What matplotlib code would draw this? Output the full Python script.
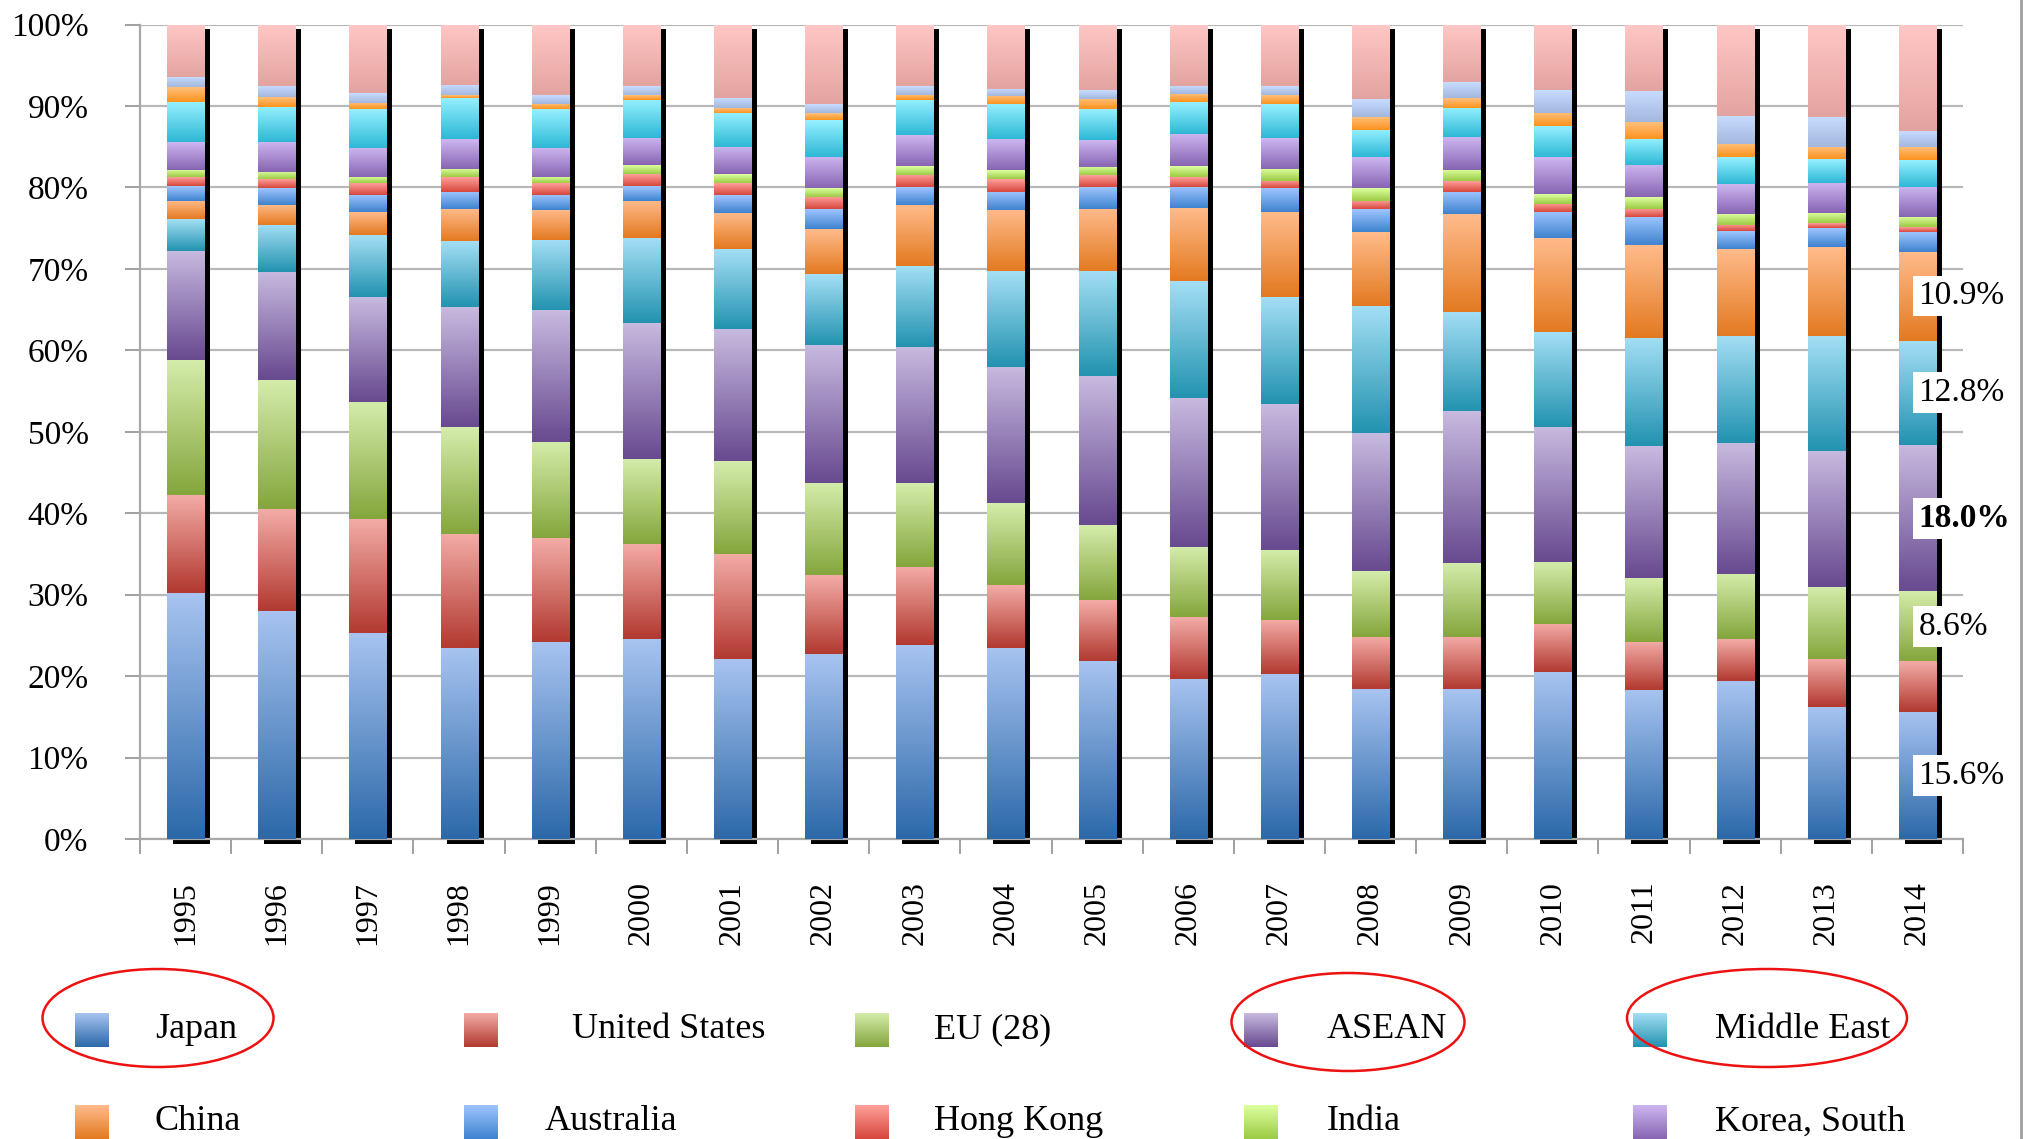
import numpy as np
import matplotlib
matplotlib.use("Agg")
import matplotlib.pyplot as plt
from matplotlib.colors import LinearSegmentedColormap
from matplotlib.patches import Ellipse, Rectangle
from matplotlib.lines import Line2D

plt.rcParams['font.family'] = ['Liberation Serif', 'DejaVu Serif']

years = [str(y) for y in range(1995, 2015)]

# shares of each partner (%) per year, bottom to top of the stack
japan     = [30.2, 28.0, 25.3, 23.5, 24.2, 24.5, 22.1, 22.7, 23.8, 23.5, 21.9, 19.7, 20.2, 18.4, 18.4, 20.5, 18.3, 19.4, 16.2, 15.6]
usa       = [12.1, 12.5, 14.0, 14.0, 12.7, 11.7, 12.9,  9.7,  9.6,  7.7,  7.4,  7.5,  6.7,  6.4,  6.4,  5.9,  5.9,  5.1,  5.9,  6.2]
eu28      = [16.5, 15.8, 14.4, 13.1, 11.9, 10.5, 11.4, 11.3, 10.3, 10.0,  9.2,  8.7,  8.6,  8.1,  9.1,  7.6,  7.8,  8.1,  8.9,  8.6]
asean     = [13.4, 13.3, 12.9, 14.7, 16.1, 16.7, 16.2, 17.0, 16.7, 16.8, 18.3, 18.3, 17.9, 16.9, 18.6, 16.6, 16.2, 16.0, 16.7, 18.0]
mideast   = [ 3.9,  5.8,  7.6,  8.1,  8.6, 10.4,  9.8,  8.7, 10.0, 11.7, 12.9, 14.3, 13.1, 15.7, 12.2, 11.6, 13.3, 13.2, 14.1, 12.8]
china     = [ 2.3,  2.5,  2.8,  4.0,  3.7,  4.6,  4.5,  5.5,  7.5,  7.5,  7.7,  9.0, 10.5,  9.0, 12.0, 11.6, 11.4, 10.7, 10.9, 10.9]
australia = [ 1.8,  2.0,  2.1,  2.1,  1.9,  1.8,  2.2,  2.4,  2.1,  2.3,  2.7,  2.6,  2.9,  2.8,  2.8,  3.2,  3.5,  2.1,  2.3,  2.4]
hongkong  = [ 1.1,  1.1,  1.4,  1.8,  1.4,  1.4,  1.4,  1.5,  1.5,  1.5,  1.4,  1.2,  0.9,  1.1,  1.3,  1.0,  1.0,  0.8,  0.6,  0.6]
india     = [ 0.9,  0.9,  0.8,  1.0,  0.8,  1.1,  1.1,  1.1,  1.1,  1.1,  1.0,  1.3,  1.5,  1.5,  1.4,  1.2,  1.4,  1.4,  1.3,  1.3]
korea     = [ 3.4,  3.7,  3.6,  3.6,  3.6,  3.4,  3.4,  3.9,  3.8,  3.8,  3.3,  4.0,  3.8,  3.8,  4.0,  4.5,  4.0,  3.6,  3.7,  3.7]
other_a   = [ 4.9,  4.3,  4.7,  5.1,  4.7,  4.7,  4.2,  4.5,  4.3,  4.3,  3.8,  3.9,  4.1,  3.4,  3.6,  3.8,  3.2,  3.3,  2.9,  3.3]
other_b   = [ 1.8,  1.2,  0.8,  0.3,  0.7,  0.6,  0.5,  0.8,  0.7,  1.0,  1.3,  1.0,  1.1,  1.6,  1.2,  1.7,  2.0,  1.6,  1.5,  1.6]
other_c   = [ 1.3,  1.4,  1.2,  1.3,  1.0,  1.1,  1.3,  1.1,  1.0,  0.9,  1.1,  1.0,  1.1,  2.2,  1.9,  2.8,  3.9,  3.5,  3.7,  1.9]
rest      = [ 6.4,  7.5,  8.4,  7.4,  8.7,  7.5,  9.0,  9.8,  7.6,  7.9,  8.0,  7.5,  7.6,  9.1,  7.1,  8.0,  8.1, 11.2, 11.3, 13.1]

series = [
    ("Japan",         japan,     "#2c69a9", "#a7c3f0"),
    ("United States", usa,       "#b23a31", "#f3aba6"),
    ("EU (28)",       eu28,      "#85a63d", "#d4ecaa"),
    ("ASEAN",         asean,     "#684a90", "#c7b9df"),
    ("Middle East",   mideast,   "#2393b0", "#a3def4"),
    ("China",         china,     "#e37a21", "#ffbb8b"),
    ("Australia",     australia, "#3f83cf", "#9ec5ff"),
    ("Hong Kong",     hongkong,  "#d6473d", "#ff9f99"),
    ("India",         india,     "#9ccb45", "#ddff9f"),
    ("Korea, South",  korea,     "#8865b3", "#cdb6f0"),
    ("other_a",       other_a,   "#2eb8d6", "#95f0ff"),
    ("other_b",       other_b,   "#fd931e", "#ffc07c"),
    ("other_c",       other_c,   "#a3b8dc", "#c7dcff"),
    ("rest",          rest,      "#e3a4a1", "#ffc7c5"),
]
legend_names = ["Japan", "United States", "EU (28)", "ASEAN", "Middle East",
                "China", "Australia", "Hong Kong", "India", "Korea, South"]
circled = ["Japan", "ASEAN", "Middle East"]

# 2014 labels: (series name, label text, bold)
labels_2014 = [("China", "10.9%", False), ("Middle East", "12.8%", False),
               ("ASEAN", "18.0%", True), ("EU (28)", "8.6%", False),
               ("Japan", "15.6%", False)]

W, H = 2031, 1139
fig = plt.figure(figsize=(W / 100, H / 100), dpi=100)
ax = fig.add_axes([140 / W, 1 - 839 / H, (1963 - 140) / W, (839 - 24.6) / H])

x = np.arange(len(years))
bar_w = 0.406
grad = np.linspace(0, 1, 64).reshape(-1, 1)

# drop shadows
ax.bar(x + 0.066, 100, bottom=-0.6, width=bar_w, color="black", zorder=2, clip_on=False)

bottom = np.zeros(len(years))
centers = {}
for name, vals, dark, light in series:
    vals = np.array(vals)
    cmap = LinearSegmentedColormap.from_list(name, [dark, light])
    bars = ax.bar(x, vals, bottom=bottom, width=bar_w, color="none", zorder=3)
    for r in bars:
        ax.imshow(grad, extent=(r.get_x(), r.get_x() + r.get_width(), r.get_y(), r.get_y() + r.get_height()),
                  origin="lower", aspect="auto", cmap=cmap, interpolation="bilinear", zorder=3)
    centers[name] = bottom[-1] + vals[-1] / 2
    bottom = bottom + vals

for name, txt, bold in labels_2014:
    ax.text(x[-1] + 0.01, centers[name], txt, fontsize=24, ha="left", va="center",
            fontweight="bold" if bold else "normal", zorder=5,
            bbox=dict(boxstyle="square,pad=0.15", fc="white", ec="none"))

ax.set_xlim(-0.5, len(years) - 0.5)
ax.set_ylim(0, 100)
ax.set_yticks(np.arange(0, 101, 10))
ax.set_yticklabels([f"{v}%" for v in range(0, 101, 10)], fontsize=24)
ax.yaxis.grid(True, color="#b8b8b8", lw=1.6, zorder=0)
ax.set_axisbelow(True)
ax.tick_params(axis="y", length=11, width=1.4, color="#a0a0a0", pad=26)

ax.set_xticks(x)
ax.set_xticklabels(years, rotation=90, fontsize=23)
ax.set_xticks(np.arange(-0.5, len(years)), minor=True)
ax.tick_params(axis="x", which="major", length=0, pad=30)
ax.tick_params(axis="x", which="minor", length=11, width=1.4, color="#a0a0a0")

for s in ["top", "right"]:
    ax.spines[s].set_visible(False)
for s in ["left", "bottom"]:
    ax.spines[s].set_color("#a8a8a8")
    ax.spines[s].set_linewidth(1.6)

# legend drawn by hand in pixel positions
colors = {name: (dark, light) for name, _, dark, light in series}
marker_x = [75, 464, 855, 1244, 1633]
text_x = [155, 545, 934, 1327, 1715]
row_y = [1030, 1122]
for i, name in enumerate(legend_names):
    row, col = divmod(i, 5)
    dark, light = colors[name]
    cmap = LinearSegmentedColormap.from_list(name + "_leg", [dark, light])
    cy = row_y[row]
    lax = fig.add_axes([marker_x[col] / W, 1 - (cy + 17) / H, 34 / W, 34 / H])
    lax.imshow(grad, origin="lower", aspect="auto", cmap=cmap, interpolation="bilinear")
    lax.axis("off")
    tx = text_x[col] + (27 if name == "United States" else 0)
    fig.text(tx / W, 1 - cy / H, name, fontsize=26, ha="left", va="center")

ellipses = {"Japan": (158, 1018, 231, 98), "ASEAN": (1348, 1022, 233, 98),
            "Middle East": (1767, 1018, 280, 98)}
for name in circled:
    ex, ey, ew, eh = ellipses[name]
    fig.patches.append(Ellipse((ex / W, 1 - ey / H), ew / W, eh / H, transform=fig.transFigure,
                               fill=False, ec="#ee1111", lw=1.8))

fig.lines.append(Line2D([2021 / W, 2021 / W], [0, 1], transform=fig.transFigure, color="#a0a0a0", lw=2))

fig.savefig("out.png", dpi=100, facecolor="white")
